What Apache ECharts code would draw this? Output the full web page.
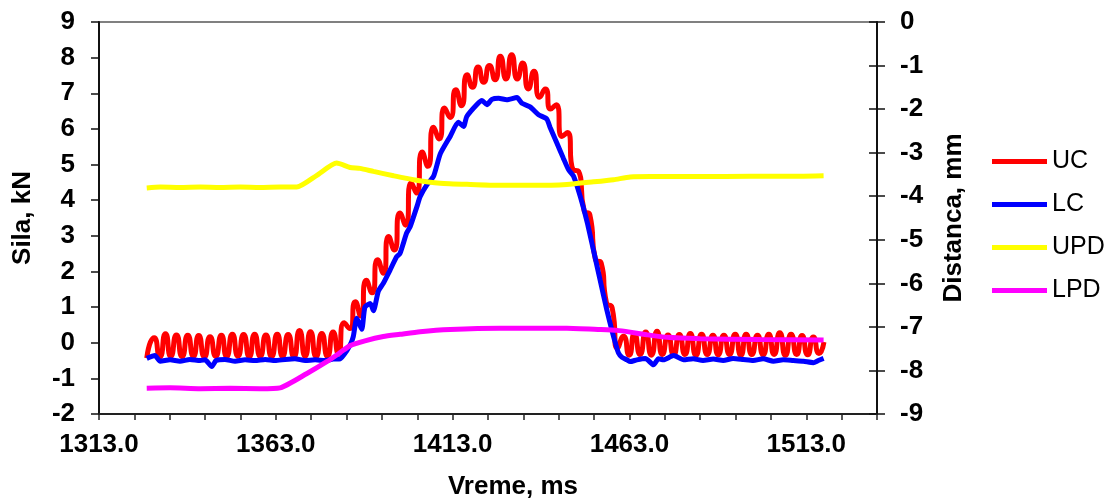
<!DOCTYPE html>
<html>
<head>
<meta charset="utf-8">
<script src="https://cdn.jsdelivr.net/npm/echarts@6/dist/echarts.min.js"></script>
<style>
html,body{margin:0;padding:0;background:#fff;}
#chart{width:1109px;height:498px;}
</style>
</head>
<body>
<div id="chart"></div>
<script>
// ---- data ----
const seriesNames = ['UC', 'LC', 'UPD', 'LPD'];
const xTickStart = 1313, xTickEnd = 1533;

// UC: upper cell force, kN (left axis)
const ucTime = [1326.5,1328.6,1330.2,1331.8,1333.3,1334.9,1336.5,1338.1,1339.7,1341.2,
1342.8,1344.4,1346.0,1347.6,1349.1,1350.7,1352.3,1353.9,1355.5,1357.0,
1358.6,1360.2,1361.8,1363.4,1364.9,1366.5,1368.1,1369.7,1371.3,1372.8,
1374.4,1376.0,1377.6,1379.2,1380.7,1382.3,1383.9,1385.5,1387.0,1388.6,
1390.2,1391.8,1393.4,1394.9,1396.5,1398.1,1399.7,1401.3,1402.8,1404.4,
1406.0,1407.6,1409.2,1410.7,1412.3,1413.9,1415.5,1417.1,1418.6,1420.2,
1421.8,1423.4,1425.0,1426.5,1428.1,1429.7,1431.3,1432.8,1434.4,1436.0,
1437.6,1439.2,1440.7,1442.3,1443.9,1445.5,1447.1,1448.6,1450.2,1451.8,
1453.4,1455.0,1456.5,1458.1,1459.7,1461.3,1462.9,1464.4,1466.0,1467.6,
1469.2,1470.8,1472.3,1473.9,1475.5,1477.1,1478.7,1480.2,1481.8,1483.4,
1485.0,1486.6,1488.1,1489.7,1491.3,1492.9,1494.5,1496.0,1497.6,1499.2,
1500.8,1502.4,1503.9,1505.5,1507.1,1508.7,1510.3,1511.8,1513.4,1515.0,
1516.6,1518.0];
const ucForce = [-0.43,0.14,-0.40,0.25,-0.38,0.22,-0.39,0.21,-0.38,0.20,
-0.40,0.17,-0.38,0.21,-0.39,0.24,-0.38,0.23,-0.40,0.24,
-0.38,0.22,-0.39,0.24,-0.38,0.23,-0.40,0.34,-0.38,0.31,
-0.39,0.26,-0.38,0.30,-0.32,0.56,0.40,1.15,0.75,1.75,
1.40,2.33,1.95,2.98,2.60,3.64,3.30,4.49,4.20,5.35,
4.95,6.05,5.72,6.59,6.32,7.10,6.65,7.52,7.17,7.74,
7.31,7.78,7.38,8.04,7.40,8.08,7.40,7.85,7.12,7.62,
6.89,7.12,6.56,6.68,5.79,5.90,4.85,4.81,3.70,3.59,
2.33,2.24,1.12,0.98,-0.15,0.18,-0.35,0.25,-0.33,0.30,
-0.35,0.32,-0.33,0.22,-0.34,0.23,-0.33,0.26,-0.35,0.24,
-0.33,0.21,-0.34,0.21,-0.33,0.24,-0.35,0.24,-0.33,0.21,
-0.34,0.24,-0.33,0.28,-0.35,0.24,-0.33,0.20,-0.34,0.16,
-0.30,0.02];

// LC: lower cell force, kN (left axis)
const lcTime = [1326.5,1328.8,1330.3,1333.1,1335.9,1338.7,1341.6,1343.0,1344.9,1346.1,
1348.6,1351.5,1354.3,1357.1,1360.0,1362.8,1365.6,1368.4,1371.3,1374.1,
1376.9,1379.2,1381.2,1383.1,1384.3,1384.9,1385.9,1387.3,1388.2,1389.7,
1390.6,1392.0,1393.4,1395.3,1397.2,1398.1,1400.0,1401.0,1402.9,1403.8,
1405.7,1407.6,1409.5,1412.3,1414.6,1416.1,1417.0,1419.8,1421.3,1422.7,
1424.1,1426.0,1428.3,1431.2,1432.6,1434.9,1437.3,1439.6,1440.6,1442.5,
1444.3,1445.8,1447.2,1449.1,1451.0,1452.8,1454.7,1456.6,1458.0,1459.0,
1459.9,1460.9,1462.3,1463.2,1465.1,1467.5,1469.8,1471.2,1472.6,1475.5,
1478.3,1481.0,1483.8,1486.7,1489.5,1492.3,1495.2,1498.0,1500.8,1503.7,
1506.5,1509.3,1512.2,1515.0,1516.4,1517.9];
const lcForce = [-0.44,-0.36,-0.52,-0.48,-0.52,-0.47,-0.50,-0.48,-0.67,-0.50,
-0.47,-0.52,-0.48,-0.50,-0.47,-0.50,-0.47,-0.45,-0.50,-0.48,
-0.50,-0.46,-0.45,-0.22,0.00,0.17,0.69,0.38,1.00,1.10,
0.90,1.45,1.67,2.04,2.42,2.50,3.08,3.26,3.82,4.10,
4.43,4.67,5.30,5.79,6.19,6.07,6.35,6.68,6.80,6.68,
6.83,6.86,6.82,6.88,6.72,6.62,6.40,6.28,6.03,5.60,
5.18,4.85,4.67,4.10,3.40,2.61,1.76,0.92,0.36,0.00,
-0.29,-0.41,-0.48,-0.53,-0.48,-0.44,-0.62,-0.45,-0.48,-0.36,
-0.48,-0.45,-0.50,-0.46,-0.50,-0.44,-0.47,-0.50,-0.45,-0.52,
-0.48,-0.50,-0.52,-0.56,-0.50,-0.44];

// UPD: upper plate distance, mm (right axis)
const updTime = [1326.5,1330.3,1335.9,1341.6,1347.2,1352.9,1358.5,1364.2,1368.9,1374.6,
1380.2,1384.0,1386.8,1390.6,1396.3,1401.9,1409.5,1418.0,1426.4,1435.9,
1445.3,1452.8,1458.5,1463.2,1468.9,1483.0,1497.2,1511.3,1517.9];
const updDist = [-3.81,-3.79,-3.80,-3.79,-3.80,-3.79,-3.80,-3.79,-3.79,-3.52,
-3.24,-3.34,-3.36,-3.43,-3.53,-3.62,-3.70,-3.73,-3.75,-3.75,
-3.73,-3.67,-3.62,-3.56,-3.55,-3.55,-3.54,-3.54,-3.53];

// LPD: lower plate distance, mm (right axis)
const lpdTime = [1326.5,1333.1,1341.6,1350.1,1358.5,1364.2,1371.8,1377.4,1381.2,1384.0,
1388.2,1393.4,1398.1,1403.8,1412.3,1426.4,1445.3,1454.7,1459.5,1463.2,
1467.9,1473.6,1483.0,1500.0,1517.9];
const lpdDist = [-8.41,-8.40,-8.42,-8.41,-8.42,-8.40,-8.07,-7.80,-7.59,-7.43,
-7.32,-7.22,-7.17,-7.11,-7.06,-7.03,-7.03,-7.06,-7.08,-7.12,
-7.18,-7.24,-7.27,-7.29,-7.30];

// ---- chart ----
function pairs(t, v) {
  const n = Math.min(t.length, v.length);
  const out = [];
  for (let i = 0; i < n; i++) out.push([t[i], v[i]]);
  return out;
}
const FONT = '"Liberation Sans", Arial, sans-serif';
const boldText = { fontFamily: FONT, fontSize: 26, fontWeight: 'bold', color: '#000' };
const LW = 5;

const chart = echarts.init(document.getElementById('chart'), null, { renderer: 'canvas' });
chart.setOption({
  animation: false,
  backgroundColor: '#fff',
  grid: { left: 99, right: 232, top: 22, bottom: 84, containLabel: false, outerBoundsMode: 'none',
          show: true, borderColor: '#808080', borderWidth: 2 },
  legend: {
    orient: 'vertical', left: 987, top: 143, padding: 5,
    icon: 'rect', itemWidth: 55, itemHeight: 5, itemGap: 16,
    textStyle: { fontFamily: FONT, fontSize: 25, color: '#000', lineHeight: 27 },
    data: seriesNames
  },
  xAxis: {
    type: 'value', min: xTickStart, max: xTickEnd, interval: 10,
    name: 'Vreme, ms', nameLocation: 'middle', nameGap: 60,
    nameTextStyle: Object.assign({}, boldText, { padding: [0, 0, 0, 50] }),
    axisLine: { show: true, onZero: false, lineStyle: { color: '#222', width: 2 } },
    axisTick: { show: true, length: 6, lineStyle: { color: '#222', width: 1.5 } },
    axisLabel: Object.assign({}, boldText, {
      margin: 18,
      formatter: function (v) { return ((Math.round(v) - xTickStart) % 50 === 0) ? Math.round(v).toFixed(1) : ''; }
    }),
    splitLine: { show: false }
  },
  yAxis: [
    {
      type: 'value', position: 'left', min: -2, max: 9, interval: 1,
      name: 'Sila, kN', nameLocation: 'middle', nameGap: 63, nameTextStyle: boldText,
      axisLine: { show: true, onZero: false, lineStyle: { color: '#111', width: 2 } },
      axisTick: { show: true, length: 8, lineStyle: { color: '#111', width: 1.5 } },
      axisLabel: Object.assign({}, boldText, { margin: 24 }),
      splitLine: { show: false }
    },
    {
      type: 'value', position: 'right', min: -9, max: 0, interval: 1,
      name: 'Distanca, mm', nameLocation: 'middle', nameGap: 64, nameTextStyle: boldText,
      axisLine: { show: true, onZero: false, lineStyle: { color: '#111', width: 2 } },
      axisTick: { show: true, length: 8, lineStyle: { color: '#111', width: 1.5 } },
      axisLabel: Object.assign({}, boldText, { margin: 23 }),
      splitLine: { show: false }
    },
    {
      type: 'value', position: 'right', min: -9, max: 0, interval: 1,
      axisLine: { show: false },
      axisTick: { show: true, inside: true, length: 8, lineStyle: { color: '#111', width: 1.5 } },
      axisLabel: { show: false },
      splitLine: { show: false }
    }
  ],
  series: [
    { name: 'UC', type: 'line', yAxisIndex: 0, data: pairs(ucTime, ucForce), symbol: 'none', smooth: 0.7,
      lineStyle: { color: '#FF0000', width: LW }, itemStyle: { color: '#FF0000' } },
    { name: 'LC', type: 'line', yAxisIndex: 0, data: pairs(lcTime, lcForce), symbol: 'none', smooth: 0.2,
      lineStyle: { color: '#0000FF', width: LW }, itemStyle: { color: '#0000FF' } },
    { name: 'UPD', type: 'line', yAxisIndex: 1, data: pairs(updTime, updDist), symbol: 'none', smooth: 0.2,
      lineStyle: { color: '#FFFF00', width: LW }, itemStyle: { color: '#FFFF00' } },
    { name: 'LPD', type: 'line', yAxisIndex: 1, data: pairs(lpdTime, lpdDist), symbol: 'none', smooth: 0.2,
      lineStyle: { color: '#FF00FF', width: LW }, itemStyle: { color: '#FF00FF' } }
  ]
});
</script>
</body>
</html>
